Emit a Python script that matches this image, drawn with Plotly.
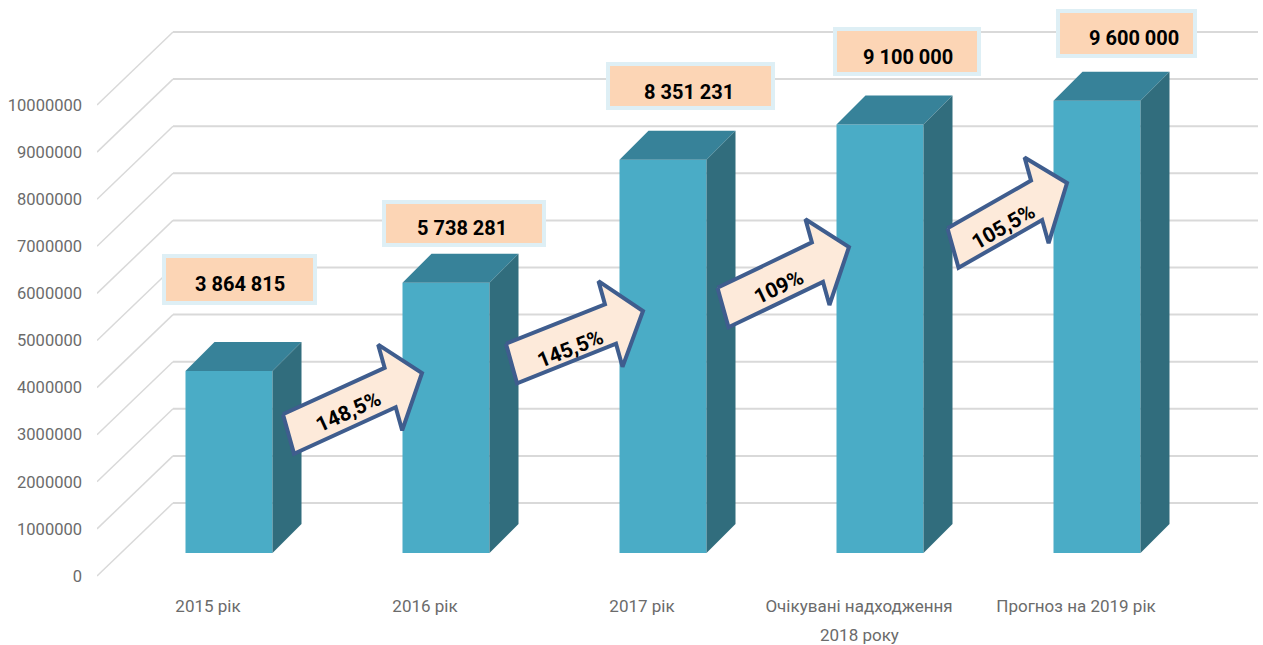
import math
import plotly.graph_objects as go

categories = ["2015 рік", "2016 рік", "2017 рік", "Очікувані надходження", "Прогноз на 2019 рік"]
category_second_line = ["", "", "", "2018 року", ""]
values = [3864815, 5738281, 8351231, 9100000, 9600000]
value_labels = ["3 864 815", "5 738 281", "8 351 231", "9 100 000", "9 600 000"]
growth_labels = ["148,5%", "145,5%", "109%", "105,5%"]
y_ticks = [0, 1000000, 2000000, 3000000, 4000000, 5000000, 6000000, 7000000, 8000000, 9000000, 10000000]

# the picture is a fake 3D chart, so everything is placed from its pixel grid
W, H = 1263, 645
PLOT_LEFT, PLOT_BOTTOM = 97, 590
X0_PX, X_STEP = 229, 217
Y0_PX, PX_PER_VALUE = 576, 47.1e-6


def X(px):
    return (px - X0_PX) / X_STEP


def Y(py):
    return (Y0_PX - py) / PX_PER_VALUE


dx_px = lambda px: px / X_STEP
dy_px = lambda px: px / PX_PER_VALUE

WALL_DX, WALL_DY = 76, 73
WALL_RIGHT = 1258
BAR_WIDTH = 87 / X_STEP
BAR_BASE = dy_px(23)
DEPTH_X, DEPTH_Y = dx_px(29), dy_px(29)

FRONT, TOP, SIDE = "#4aacc6", "#378299", "#316d7d"
GRID = "#d9d9d9"
FONT = "Roboto"

# callout boxes (left, top, right, bottom) and text centre
box_px = [(164, 256, 315, 303), (384, 202, 544, 245), (608, 64, 773, 108), (835, 29, 979, 74), (1058, 11, 1195, 56)]
box_text_px = [(240, 284), (462, 228), (689, 92), (908, 57), (1134, 38)]
# arrows: tail centre, tip, text centre
arrow_px = [
    ((288.5, 434), (422, 373), (348, 412)),
    ((511.5, 363.5), (643, 311), (570, 349)),
    ((723, 307.5), (849, 247), (779, 287)),
    ((953, 248), (1067, 183), (1003, 227)),
]

fig = go.Figure()

# back wall + side wall lines, below the bars
shapes = []
for v in y_ticks:
    back_x, back_y = X(PLOT_LEFT + WALL_DX), v + dy_px(WALL_DY)
    shapes.append(dict(type="line", xref="x", yref="y", layer="below",
                       x0=X(PLOT_LEFT), y0=v, x1=back_x, y1=back_y,
                       line=dict(color=GRID, width=1.5)))
    shapes.append(dict(type="line", xref="x", yref="y", layer="below",
                       x0=back_x, y0=back_y, x1=X(WALL_RIGHT), y1=back_y,
                       line=dict(color=GRID, width=2)))

fig.add_trace(go.Bar(
    x=list(range(len(values))), y=values, base=BAR_BASE,
    width=BAR_WIDTH, marker=dict(color=FRONT, line=dict(width=0)),
    showlegend=False,
))

for i, v in enumerate(values):
    left, right = i - BAR_WIDTH / 2, i + BAR_WIDTH / 2
    top = BAR_BASE + v
    fig.add_trace(go.Scatter(
        x=[left, right, right + DEPTH_X, left + DEPTH_X, left],
        y=[top, top, top + DEPTH_Y, top + DEPTH_Y, top],
        mode="lines", fill="toself", fillcolor=TOP, line=dict(width=0), showlegend=False,
    ))
    fig.add_trace(go.Scatter(
        x=[right, right + DEPTH_X, right + DEPTH_X, right, right],
        y=[BAR_BASE, BAR_BASE + DEPTH_Y, top + DEPTH_Y, top, BAR_BASE],
        mode="lines", fill="toself", fillcolor=SIDE, line=dict(width=0), showlegend=False,
    ))


def arrow_outline(tail, tip, shaft=41, head=89, head_len=35, cross=(0.27, 0.963)):
    # the arrows are slightly sheared in the picture: the cross edges are not square to the shaft
    length = math.hypot(tip[0] - tail[0], tip[1] - tail[1])
    ux, uy = (tip[0] - tail[0]) / length, (tip[1] - tail[1]) / length

    def pt(a, b):
        return tail[0] + ux * a + cross[0] * b, tail[1] + uy * a + cross[1] * b

    neck = length - head_len
    return [pt(0, -shaft / 2), pt(neck, -shaft / 2), pt(neck, -head / 2), pt(length, 0),
            pt(neck, head / 2), pt(neck, shaft / 2), pt(0, shaft / 2), pt(0, -shaft / 2)]


for (tail, tip, text_at), label in zip(arrow_px, growth_labels):
    outline = arrow_outline(tail, tip)
    fig.add_trace(go.Scatter(
        x=[X(p[0]) for p in outline], y=[Y(p[1]) for p in outline],
        mode="lines", fill="toself", fillcolor="#fdeada",
        line=dict(color="#3f5d8e", width=4), showlegend=False,
    ))
    angle = math.degrees(math.atan2(tip[1] - tail[1], tip[0] - tail[0]))
    fig.add_annotation(x=X(text_at[0]), y=Y(text_at[1]), text=f"<b>{label}</b>", showarrow=False,
                       textangle=angle, font=dict(size=21, color="#000000"))

for (x0, y0, x1, y1), (tx, ty), label in zip(box_px, box_text_px, value_labels):
    shapes.append(dict(type="rect", xref="x", yref="y", layer="above",
                       x0=X(x0), y0=Y(y0), x1=X(x1), y1=Y(y1),
                       fillcolor="#fcd5b5", line=dict(color="#deeff5", width=4)))
    fig.add_annotation(x=X(tx), y=Y(ty), text=f"<b>{label}</b>", showarrow=False,
                       font=dict(size=20, color="#000000"))

tick_x = [i - 21 / X_STEP for i in range(len(categories))]
for x, line in zip(tick_x, category_second_line):
    if line:
        # below the plot area, so placed in paper units
        fig.add_annotation(x=x, yref="paper", y=(PLOT_BOTTOM - 635) / PLOT_BOTTOM, yanchor="middle",
                           text=line, showarrow=False, font=dict(size=17, color="#6b6b6b"))

fig.update_layout(
    width=W, height=H,
    margin=dict(l=PLOT_LEFT, r=0, t=0, b=H - PLOT_BOTTOM, pad=0),
    paper_bgcolor="#ffffff", plot_bgcolor="#ffffff",
    font=dict(family=FONT, size=17, color="#6b6b6b"),
    shapes=shapes,
    showlegend=False,
)
fig.update_xaxes(
    range=[X(PLOT_LEFT), X(W)], automargin=False,
    tickmode="array", tickvals=tick_x, ticktext=categories,
    showgrid=False, zeroline=False, showline=False, ticks="",
    ticklabelstandoff=4,
    tickfont=dict(size=17, color="#6b6b6b"),
)
fig.update_yaxes(
    range=[Y(PLOT_BOTTOM), Y(0)], automargin=False,
    tickmode="array", tickvals=y_ticks, ticktext=[str(v) for v in y_ticks],
    showgrid=False, zeroline=False, showline=False, ticks="",
    ticklabelstandoff=14,
    tickfont=dict(size=16.5, color="#6b6b6b"),
)

fig.write_html("out.html", config=dict(displayModeBar=False),
               post_script="document.body.style.margin='0';document.documentElement.style.overflow='hidden';")
